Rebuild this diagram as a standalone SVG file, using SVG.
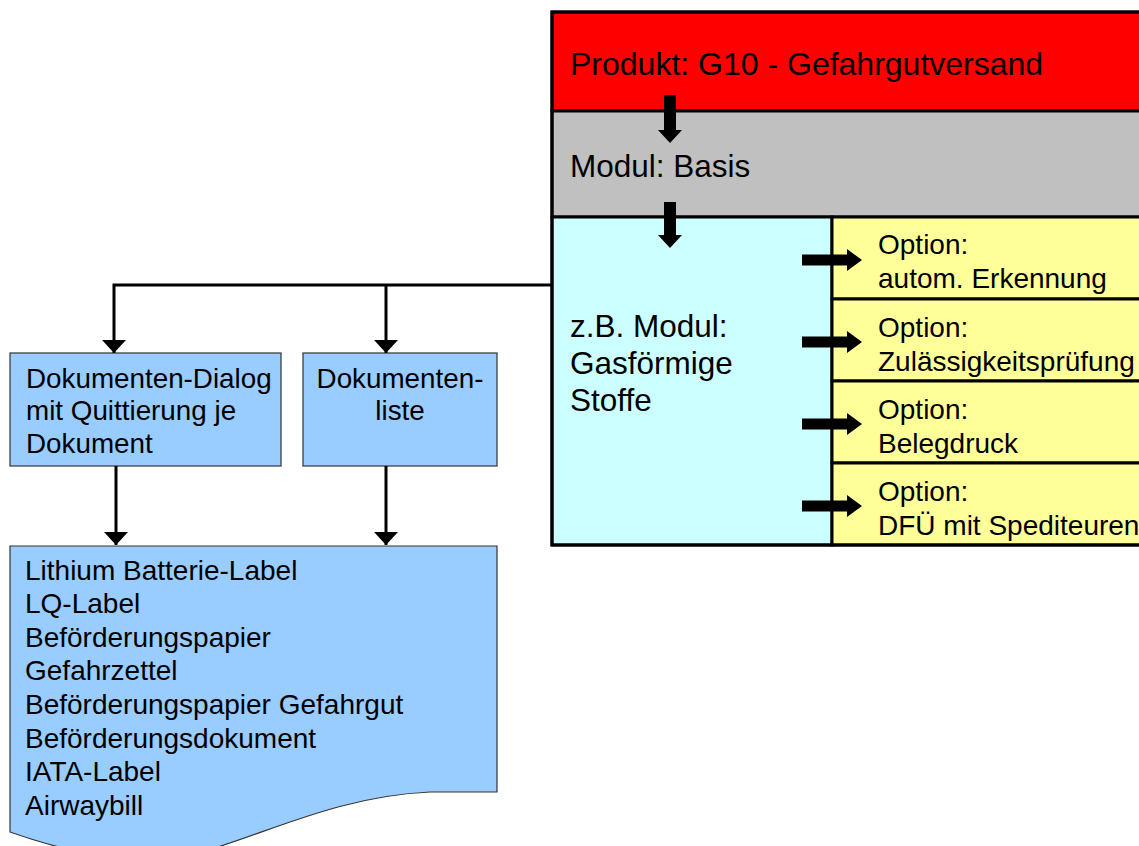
<svg xmlns="http://www.w3.org/2000/svg" width="1139" height="846" viewBox="0 0 1139 846">
<defs>
<style>
text{font-family:"Liberation Sans",Arial,sans-serif;fill:#000}
.big{font-size:31.5px}
.mid{font-size:28px}
.sm{font-size:27.8px}
.blk{stroke:#000;stroke-width:3}
.blue{fill:#99CCFF;stroke:#333;stroke-width:1.2}
.conn{fill:none;stroke:#000;stroke-width:3}
.bar{fill:#000}
</style>
<marker id="ah" markerUnits="userSpaceOnUse" markerWidth="13" markerHeight="24" refX="13" refY="12" orient="auto">
<path d="M0,0 L13,12 L0,24 Z" fill="#000"/>
</marker>
</defs>
<rect width="1139" height="846" fill="#fff"/>

<g id="produkt">
<rect x="552" y="12" width="600" height="99" fill="#FF0000" class="blk"/>
<text class="big" x="570" y="75" style="font-size:32px">Produkt: G10 - Gefahrgutversand</text>
</g>
<g id="basis">
<rect x="552" y="111" width="600" height="106" fill="#C0C0C0" class="blk"/>
<text class="big" x="570" y="177">Modul: Basis</text>
</g>
<g id="modul">
<rect x="552" y="217" width="280" height="328" fill="#CCFFFF" class="blk"/>
<text class="big" x="570" y="337">z.B. Modul:</text>
<text class="big" x="570" y="374">Gasförmige</text>
<text class="big" x="570" y="411">Stoffe</text>
</g>
<g id="opt1">
<rect x="832" y="217" width="320" height="82" fill="#FFFF99" class="blk" stroke-width="2.5"/>
<text class="mid" x="878" y="254">Option:</text>
<text class="mid" x="878" y="288">autom. Erkennung</text>
</g>
<g id="opt2">
<rect x="832" y="299" width="320" height="82" fill="#FFFF99" class="blk" stroke-width="2.5"/>
<text class="mid" x="878" y="337">Option:</text>
<text class="mid" x="878" y="371">Zulässigkeitsprüfung</text>
</g>
<g id="opt3">
<rect x="832" y="381" width="320" height="82" fill="#FFFF99" class="blk" stroke-width="2.5"/>
<text class="mid" x="878" y="419">Option:</text>
<text class="mid" x="878" y="453">Belegdruck</text>
</g>
<g id="opt4">
<rect x="832" y="463" width="320" height="82" fill="#FFFF99" class="blk" stroke-width="2.5"/>
<text class="mid" x="878" y="501">Option:</text>
<text class="mid" x="878" y="535">DFÜ mit Spediteuren</text>
</g>
<rect x="552" y="12" width="600" height="533" fill="none" stroke="#000" stroke-width="3"/>

<g id="dialog">
<rect x="10" y="353" width="271" height="113" class="blue"/>
<text class="sm" x="26" y="388">Dokumenten-Dialog</text>
<text class="sm" x="26" y="420">mit Quittierung je</text>
<text class="sm" x="26" y="453">Dokument</text>
</g>
<g id="liste">
<rect x="303" y="353" width="194" height="113" class="blue"/>
<text class="sm" x="400" y="388" text-anchor="middle">Dokumenten-</text>
<text class="sm" x="400" y="420" text-anchor="middle">liste</text>
</g>
<g id="dokumente">
<path d="M10,546 H497 V792 H430 C 340,796 270,832 205,851 C 150,866 90,860 10,832 Z" class="blue"/>
<text class="sm" x="25" y="580" style="font-size:28px">Lithium Batterie-Label</text>
<text class="sm" x="25" y="613" style="font-size:28px">LQ-Label</text>
<text class="sm" x="25" y="647" style="font-size:28px">Beförderungspapier</text>
<text class="sm" x="25" y="680" style="font-size:28px">Gefahrzettel</text>
<text class="sm" x="25" y="714" style="font-size:28px">Beförderungspapier Gefahrgut</text>
<text class="sm" x="25" y="748" style="font-size:28px">Beförderungsdokument</text>
<text class="sm" x="25" y="781" style="font-size:28px">IATA-Label</text>
<text class="sm" x="25" y="815" style="font-size:28px">Airwaybill</text>
</g>

<g id="connectors">
<path class="conn" d="M552,285 H114 V353" marker-end="url(#ah)"/>
<path class="conn" d="M386,285 V353" marker-end="url(#ah)"/>
<path class="conn" d="M116,466 V545" marker-end="url(#ah)"/>
<path class="conn" d="M386,466 V545" marker-end="url(#ah)"/>
<path class="bar" d="M664,95 H676 V130 H682 L670,143 L658,130 H664 Z"/>
<path class="bar" d="M664,202 H676 V235 H682 L670,248 L658,235 H664 Z"/>
<path class="bar" d="M802,254.5 H847 V249 L862,260 L847,271 V265.5 H802 Z"/>
<path class="bar" d="M802,336.5 H847 V331 L862,342 L847,353 V347.5 H802 Z"/>
<path class="bar" d="M802,418.5 H847 V413 L862,424 L847,435 V429.5 H802 Z"/>
<path class="bar" d="M802,500.5 H847 V495 L862,506 L847,517 V511.5 H802 Z"/>
</g>
</svg>
